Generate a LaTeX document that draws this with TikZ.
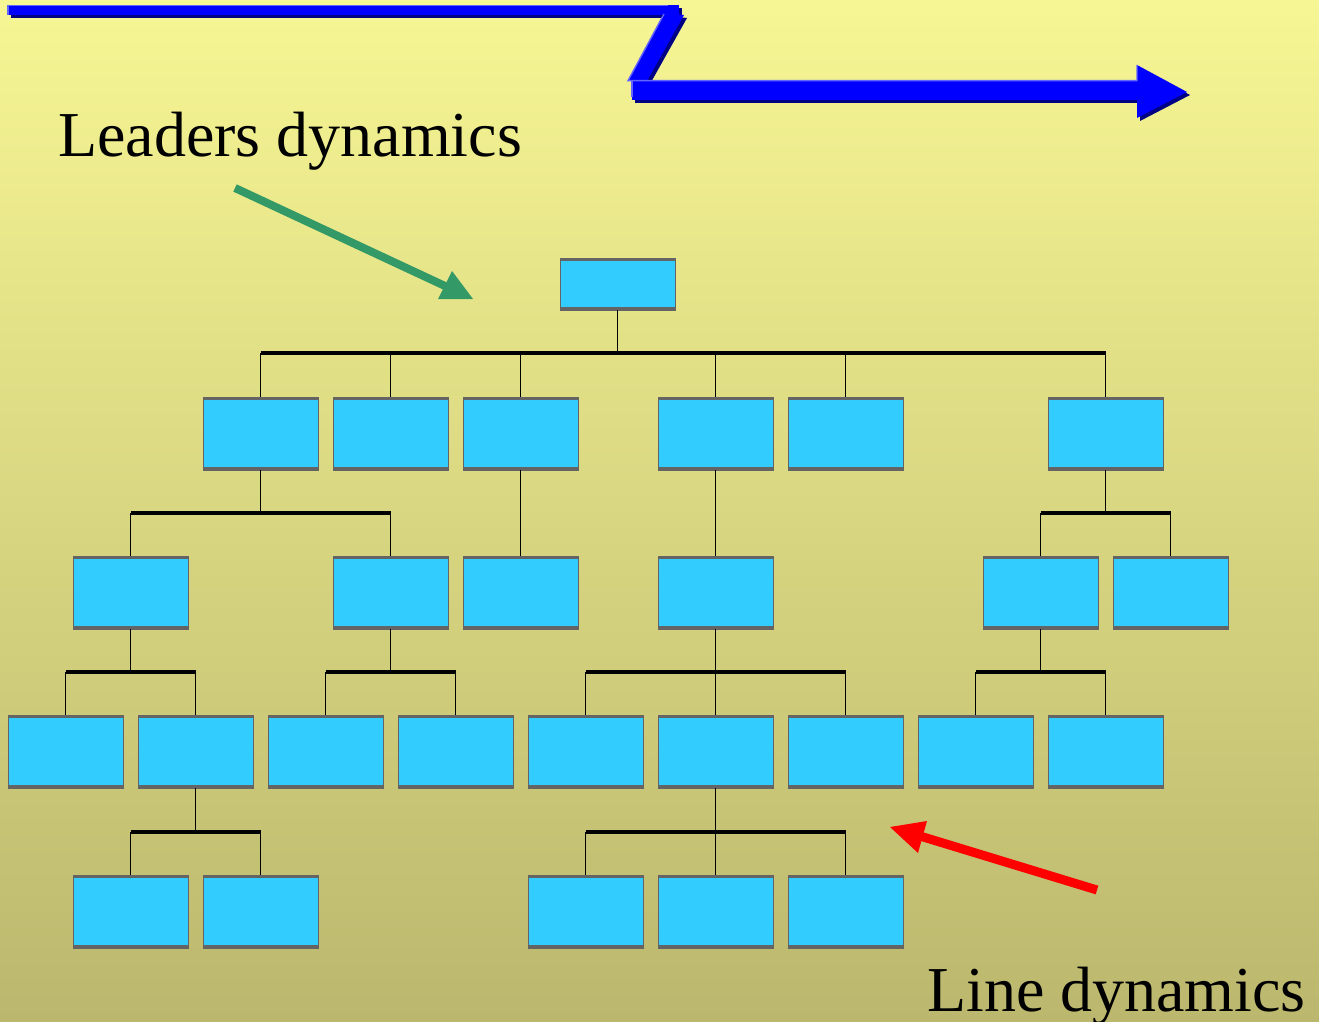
\documentclass[tikz,border=0pt]{standalone}
\usepackage{fontspec}
\setmainfont{Liberation Serif}
\definecolor{bgtop}{RGB}{247,246,148}
\definecolor{bgbot}{RGB}{187,183,110}
\definecolor{boxfill}{RGB}{51,204,255}
\definecolor{boxedge}{RGB}{100,100,100}
\definecolor{flowblue}{RGB}{0,0,255}
\definecolor{flowlight}{RGB}{100,100,255}
\definecolor{flowdark}{RGB}{0,0,130}
\definecolor{leadgreen}{RGB}{51,153,102}
\definecolor{linered}{RGB}{255,0,0}
\tikzset{
  unit/.style={rectangle, fill=boxfill, draw=boxedge, line width=1pt,
    minimum width=115pt, minimum height=73pt, inner sep=0pt, outer sep=0pt},
  topunit/.style={unit, minimum height=52pt},
  rim/.style={boxedge, line width=3.2pt},
  bus/.style={black, line width=3.2pt},
  drop/.style={black, line width=1.3pt},
  label/.style={font=\fontsize{64}{70}\selectfont, inner sep=0pt, anchor=base west}
}
\begin{document}
\begin{tikzpicture}[x=1pt,y=-1pt]
\useasboundingbox (0,0) rectangle (1319,1022);
\shade[top color=bgtop, bottom color=bgbot] (0,0) rectangle (1319,1022);

% flow arrow along the top: shadow, body, highlight
\begin{scope}[shift={(3,3)}]
  \fill[flowdark] (8,5) rectangle (679,15);
  \fill[flowdark] (664,13) -- (684,15) -- (647,81) -- (628,81) -- cycle;
  \fill[flowdark] (632,80) rectangle (1140,100);
  \fill[flowdark] (1137,65) -- (1187,92) -- (1137,118) -- cycle;
\end{scope}
\fill[flowblue] (8,5) rectangle (679,15);
\fill[flowblue] (664,13) -- (684,15) -- (647,81) -- (628,81) -- cycle;
\fill[flowblue] (632,80) rectangle (1140,100);
\fill[flowblue] (1137,65) -- (1187,92) -- (1137,118) -- cycle;
\draw[flowlight, line width=1.4pt] (8,15) -- (8,5.7) -- (668,5.7);
\draw[flowlight, line width=1.4pt] (664,14) -- (628,80.7) -- (1137,80.7) -- (1137,65);
\draw[flowlight, line width=1.4pt] (632,80) -- (632,97);

% organisation chart units
\node[topunit] (r0) at (617.5,284) {};

\node[unit] (a1) at (260.5,433.5) {};
\node[unit] (a2) at (390.5,433.5) {};
\node[unit] (a3) at (520.5,433.5) {};
\node[unit] (a4) at (715.5,433.5) {};
\node[unit] (a5) at (845.5,433.5) {};
\node[unit] (a6) at (1105.5,433.5) {};

\node[unit] (b1) at (130.5,592.5) {};
\node[unit] (b2) at (390.5,592.5) {};
\node[unit] (b3) at (520.5,592.5) {};
\node[unit] (b4) at (715.5,592.5) {};
\node[unit] (b5) at (1040.5,592.5) {};
\node[unit] (b6) at (1170.5,592.5) {};

\node[unit] (c1) at (65.5,751.5) {};
\node[unit] (c2) at (195.5,751.5) {};
\node[unit] (c3) at (325.5,751.5) {};
\node[unit] (c4) at (455.5,751.5) {};
\node[unit] (c5) at (585.5,751.5) {};
\node[unit] (c6) at (715.5,751.5) {};
\node[unit] (c7) at (845.5,751.5) {};
\node[unit] (c8) at (975.5,751.5) {};
\node[unit] (c9) at (1105.5,751.5) {};

\node[unit] (d1) at (130.5,911.5) {};
\node[unit] (d2) at (260.5,911.5) {};
\node[unit] (d3) at (585.5,911.5) {};
\node[unit] (d4) at (715.5,911.5) {};
\node[unit] (d5) at (845.5,911.5) {};

% heavier top and bottom rims
\foreach \n in {r0,a1,a2,a3,a4,a5,a6,b1,b2,b3,b4,b5,b6,c1,c2,c3,c4,c5,c6,c7,c8,c9,d1,d2,d3,d4,d5}{
  \draw[rim] ([yshift=-1.6pt]\n.north west) -- ([yshift=-1.6pt]\n.north east);
  \draw[rim] ([yshift=1.6pt]\n.south west) -- ([yshift=1.6pt]\n.south east);
}

% reporting lines
\coordinate (y0) at (0,353);
\coordinate (y1) at (0,513);
\coordinate (y2) at (0,672);
\coordinate (y3) at (0,832);

\draw[drop] (r0.south) -- (r0.south |- y0);
\foreach \n in {a1,a2,a3,a4,a5,a6} \draw[drop] (\n.north) -- (\n.north |- y0);
\draw[bus] (a1.north |- y0) -- (a6.north |- y0);

\draw[drop] (a1.south) -- (a1.south |- y1);
\foreach \n in {b1,b2} \draw[drop] (\n.north) -- (\n.north |- y1);
\draw[bus] (b1.north |- y1) -- (b2.north |- y1);
\draw[drop] (a3.south) -- (b3.north);
\draw[drop] (a4.south) -- (b4.north);
\draw[drop] (a6.south) -- (a6.south |- y1);
\foreach \n in {b5,b6} \draw[drop] (\n.north) -- (\n.north |- y1);
\draw[bus] (b5.north |- y1) -- (b6.north |- y1);

\draw[drop] (b1.south) -- (b1.south |- y2);
\foreach \n in {c1,c2} \draw[drop] (\n.north) -- (\n.north |- y2);
\draw[bus] (c1.north |- y2) -- (c2.north |- y2);
\draw[drop] (b2.south) -- (b2.south |- y2);
\foreach \n in {c3,c4} \draw[drop] (\n.north) -- (\n.north |- y2);
\draw[bus] (c3.north |- y2) -- (c4.north |- y2);
\draw[drop] (b4.south) -- (b4.south |- y2);
\foreach \n in {c5,c6,c7} \draw[drop] (\n.north) -- (\n.north |- y2);
\draw[bus] (c5.north |- y2) -- (c7.north |- y2);
\draw[drop] (b5.south) -- (b5.south |- y2);
\foreach \n in {c8,c9} \draw[drop] (\n.north) -- (\n.north |- y2);
\draw[bus] (c8.north |- y2) -- (c9.north |- y2);

\draw[drop] (c2.south) -- (c2.south |- y3);
\foreach \n in {d1,d2} \draw[drop] (\n.north) -- (\n.north |- y3);
\draw[bus] (d1.north |- y3) -- (d2.north |- y3);
\draw[drop] (c6.south) -- (c6.south |- y3);
\foreach \n in {d3,d4,d5} \draw[drop] (\n.north) -- (\n.north |- y3);
\draw[bus] (d3.north |- y3) -- (d5.north |- y3);

% labels
\node[label] (lead) at (58,156) {Leaders dynamics};
\node[label] (line) at (927,1011) {Line dynamics};

% pointer arrows
\coordinate (gtail) at (235,188);
\coordinate (gtip) at (473,299);
\draw[leadgreen, line width=8pt] (gtail) -- (445,286);
\fill[leadgreen] (gtip) -- (452,271) -- (438,299) -- cycle;

\coordinate (rtail) at (1097,890);
\coordinate (rtip) at (890,827);
\draw[linered, line width=9pt] (rtail) -- (920,836);
\fill[linered] (rtip) -- (927,821) -- (918,853) -- cycle;
\end{tikzpicture}
\end{document}
